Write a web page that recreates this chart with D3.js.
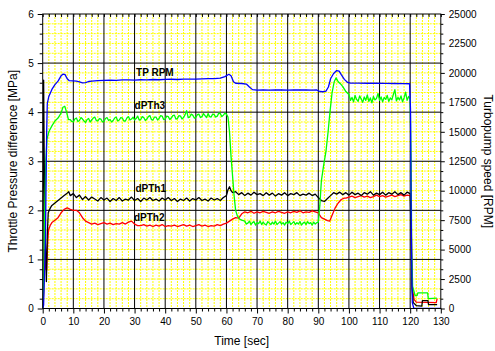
<!DOCTYPE html>
<html>
<head>
<meta charset="utf-8">
<script src="https://cdn.jsdelivr.net/npm/d3@7"></script>
<style>
  body { margin: 0; background: #fff; }
  svg { display: block; font-family: "Liberation Sans", Arial, sans-serif; }
</style>
</head>
<body>
<div id="chart"></div>
<script>
// Turbopump speed [RPM] vs time [s]
const tpRpm = [[0,0],[0.3,300],[0.9,6000],[1.3,15000],[1.5,17400],[2,18000],[3,18600],[4,19000],[5,19300],[6,19750],[6.7,19900],[7.3,19850],[8,19500],[8.6,19350],[10,19320],[11,19300],[12,19230],[13,19160],[14,19180],[15,19270],[16,19310],[18,19340],[20,19360],[22,19380],[24,19370],[26,19400],[28,19410],[30,19390],[32,19420],[34,19410],[36,19440],[38,19420],[40,19450],[42,19460],[44,19440],[46,19470],[48,19480],[50,19470],[52,19500],[54,19510],[56,19520],[58,19560],[59.5,19680],[60.8,19880],[61.5,19750],[62.3,19250],[63,19120],[65,19100],[66.5,19050],[67.5,18800],[68.5,18580],[70,18540],[72,18560],[74,18540],[76,18560],[78,18550],[80,18540],[82,18560],[84,18550],[86,18560],[88,18540],[89.5,18550],[90.5,18420],[91.5,18400],[92.5,18450],[93.3,18800],[94,19500],[95,19950],[96,20200],[96.8,20150],[97.5,19850],[98.5,19450],[99.5,19200],[100.5,19130],[103,19140],[106,19120],[109,19130],[112,19110],[115,19100],[118,19090],[119.8,19080],[120.1,17000],[120.4,6000],[120.7,500],[121.2,0],[130,0]];

// Pressure differences [MPa] vs time [s]
const dPTh3 = [[0,0],[0.3,0.4],[0.6,1.8],[1.0,3.0],[1.4,3.45],[2,3.6],[3,3.72],[4,3.82],[5,3.88],[6,3.98],[6.6,4.1],[7.2,4.12],[7.8,4.0],[8.4,3.85],[9,3.85],[9.5,3.81],
  [10,3.80],[10.5,3.86],[11,3.88],[11.5,3.81],[12,3.83],[12.5,3.89],[13,3.86],[13.5,3.82],[14,3.79],[14.5,3.85],[15,3.87],[15.5,3.80],[16,3.84],[16.5,3.88],[17,3.90],[17.5,3.83],[18,3.82],[18.5,3.87],[19,3.86],[19.5,3.80],
  [20,3.81],[20.5,3.87],[21,3.89],[21.5,3.83],[22,3.85],[22.5,3.80],[23,3.83],[23.5,3.88],[24,3.90],[24.5,3.82],[25,3.84],[25.5,3.89],[26,3.88],[26.5,3.82],[27,3.82],[27.5,3.88],[28,3.91],[28.5,3.84],[29,3.86],[29.5,3.90],
  [30,3.84],[30.5,3.87],[31,3.92],[31.5,3.84],[32,3.85],[32.5,3.91],[33,3.89],[33.5,3.83],[34,3.86],[34.5,3.91],[35,3.93],[35.5,3.85],[36,3.84],[36.5,3.90],[37,3.90],[37.5,3.84],[38,3.87],[38.5,3.93],[39,3.92],[39.5,3.85],
  [40,3.86],[40.5,3.92],[41,3.91],[41.5,3.85],[42,3.88],[42.5,3.93],[43,3.94],[43.5,3.86],[44,3.87],[44.5,3.93],[45,3.92],[45.5,3.86],[46,3.89],[46.5,3.95],[47,4.03],[47.5,3.89],[48,3.90],[48.5,3.96],[49,3.94],[49.5,3.88],
  [50,3.89],[50.5,3.95],[51,3.96],[51.5,3.89],[52,3.91],[52.5,3.97],[53,3.93],[53.5,3.89],[54,3.97],[54.5,3.91],[55,3.90],[55.5,3.96],[56,3.95],[56.5,3.90],[57,3.92],[57.5,3.98],[58,3.97],[58.5,3.91],[59,3.94],[59.5,3.98],
  [60,3.96],[60.5,3.9],[61,3.6],[61.5,3.1],[62,2.7],[62.5,2.3],[63,2.0],[63.6,1.88],[64.3,1.82],[65,1.80],
  [66,1.78],[66.5,1.72],[67,1.74],[67.5,1.78],[68,1.71],[68.5,1.75],[69,1.77],[69.5,1.70],[70,1.75],[70.5,1.73],[71,1.78],[71.5,1.71],[72,1.76],[72.5,1.72],[73,1.70],[73.5,1.77],[74,1.74],[74.5,1.71],[75,1.76],[75.5,1.72],
  [76,1.78],[76.5,1.71],[77,1.74],[77.5,1.77],[78,1.72],[78.5,1.75],[79,1.70],[79.5,1.76],[80,1.73],[80.5,1.78],[81,1.71],[81.5,1.74],[82,1.77],[82.5,1.71],[83,1.75],[83.5,1.72],[84,1.77],[84.5,1.70],[85,1.74],[85.5,1.76],
  [86,1.71],[86.5,1.77],[87,1.73],[87.5,1.75],[88,1.70],[88.5,1.76],[89,1.72],[89.5,1.75],[90,1.76],
  [90.5,2.1],[91,2.6],[91.7,2.9],[92.5,3.2],[93.2,3.6],[93.8,4.0],[94.5,4.4],[95.2,4.62],[95.8,4.7],[96.5,4.62],[97.2,4.58],[98,4.52],[99,4.42],
  [100,4.36],[100.5,4.24],[101,4.30],[101.5,4.21],[102,4.34],[102.5,4.26],[103,4.22],[103.5,4.33],[104,4.27],[104.5,4.20],[105,4.31],[105.5,4.24],[106,4.35],[106.5,4.22],[107,4.29],[107.5,4.19],[108,4.32],[108.5,4.25],[109,4.28],[109.5,4.38],
  [110,4.24],[110.5,4.31],[111,4.21],[111.5,4.30],[112,4.26],[112.5,4.34],[113,4.22],[113.5,4.29],[114,4.25],[114.5,4.36],[115,4.46],[115.5,4.23],[116,4.30],[116.5,4.25],[117,4.33],[117.5,4.21],[118,4.29],[118.5,4.41],[119,4.24],[119.5,4.32],
  [120,4.27],[120.3,3.0],[120.5,1.2],[120.8,0.45],[121.2,0.36],[121.6,0.26],[122.3,0.27],[122.5,0.32],[125.7,0.32],[125.9,0.2],[128.7,0.21]];

const dPTh1 = [[0,0],[0.15,2.0],[0.3,4.65],[0.5,3.0],[0.8,1.5],[1.2,0.55],[1.5,1.5],[1.8,1.95],[2.5,2.05],[3,2.1],[4,2.15],[5,2.2],[6,2.25],[7,2.3],[8,2.35],[8.5,2.38],[9,2.30],[10,2.34],[11,2.26],[12,2.31],[13,2.22],[14,2.28],[15,2.21],[16,2.27],[17,2.23],[18,2.19],[19,2.26],[20,2.21],[21,2.25],[22,2.18],[23,2.24],[24,2.20],[25,2.26],[26,2.19],[27,2.23],[28,2.21],[29,2.27],[30,2.20],[31,2.24],[32,2.18],[33,2.25],[34,2.21],[35,2.26],[36,2.20],[37,2.23],[38,2.19],[39,2.25],[40,2.21],[41,2.26],[42,2.20],[43,2.24],[44,2.18],[45,2.23],[46,2.20],[47,2.25],[48,2.19],[49,2.24],[50,2.21],[51,2.26],[52,2.20],[53,2.23],[54,2.19],[55,2.25],[56,2.21],[57,2.24],[58,2.20],[59,2.26],[60,2.30],[60.5,2.42],[61,2.48],[61.5,2.40],[62,2.36],[63,2.38],[64,2.32],[65,2.36],[66,2.30],[67,2.35],[68,2.31],[69,2.37],[70,2.32],[71,2.34],[72,2.30],[73,2.36],[74,2.31],[75,2.35],[76,2.29],[77,2.34],[78,2.31],[79,2.36],[80,2.30],[81,2.34],[82,2.32],[83,2.36],[84,2.30],[85,2.33],[86,2.31],[87,2.35],[88,2.30],[89,2.33],[90,2.26],[91,2.20],[92,2.18],[93,2.24],[94,2.30],[95,2.36],[96,2.33],[97,2.37],[98,2.32],[99,2.36],[100,2.31],[101,2.37],[102,2.32],[103,2.35],[104,2.30],[105,2.36],[106,2.33],[107,2.38],[108,2.31],[109,2.35],[110,2.32],[111,2.37],[112,2.31],[113,2.36],[114,2.33],[115,2.38],[116,2.32],[117,2.36],[118,2.31],[119,2.37],[120,2.34],[120.3,1.5],[120.6,0.4],[121,0.12],[122,0.06],[123.8,0.05],[124,0.16],[125.8,0.16],[126,0.08],[128.8,0.08]];

const dPTh2 = [[0,0],[0.3,0.3],[0.5,1.2],[0.8,1.15],[1.0,0.8],[1.3,0.78],[1.6,1.3],[1.9,1.6],[2.5,1.7],[3,1.75],[4,1.8],[5,1.85],[6,1.95],[7,2.02],[8,2.05],[9,2.02],[10,2.0],[11,2.0],[12,1.95],[13,1.85],[14,1.78],[15,1.75],[16,1.72],[17,1.74],[18,1.71],[19,1.73],[20,1.75],[21,1.72],[22,1.74],[23,1.71],[24,1.73],[25,1.72],[26,1.75],[27,1.72],[28,1.76],[29,1.78],[30,1.72],[31,1.69],[32,1.69],[33,1.71],[34,1.68],[35,1.70],[36,1.67],[37,1.70],[38,1.68],[39,1.71],[40,1.67],[41,1.69],[42,1.68],[43,1.70],[44,1.67],[45,1.69],[46,1.71],[47,1.68],[48,1.70],[49,1.67],[50,1.69],[51,1.71],[52,1.68],[53,1.70],[54,1.67],[55,1.69],[56,1.68],[57,1.71],[58,1.69],[59,1.72],[60,1.74],[61,1.78],[62,1.82],[63,1.85],[64,1.84],[65,1.93],[66,1.97],[67,1.95],[68,1.98],[69,1.94],[70,1.97],[71,1.95],[72,1.98],[73,1.96],[74,1.94],[75,1.97],[76,1.95],[77,1.98],[78,1.96],[79,1.94],[80,1.97],[81,1.95],[82,1.98],[83,1.96],[84,1.99],[85,1.95],[86,1.97],[87,1.96],[88,1.99],[89,1.97],[90,1.95],[90.5,1.9],[91,1.85],[92,1.82],[93,1.79],[93.7,1.78],[94.5,1.9],[95.5,2.05],[96.5,2.15],[97.5,2.22],[98.5,2.25],[99,2.25],[100,2.27],[101,2.29],[102,2.26],[103,2.28],[104,2.30],[105,2.27],[106,2.29],[107,2.26],[108,2.28],[109,2.31],[110,2.28],[111,2.30],[112,2.27],[113,2.29],[114,2.31],[115,2.28],[116,2.30],[117,2.32],[118,2.29],[119,2.31],[120,2.30],[120.3,2.2],[120.6,0.5],[121,0.3],[121.3,0.18],[122,0.13],[128.5,0.12],[128.8,0.2]];

const xTicks = d3.range(0, 131, 10);
const yTicks = d3.range(0, 7, 1);
const rpmTicks = d3.range(0, 25001, 2500);

const W = 495, H = 351;
const plot = { left: 42.7, right: 440.8, top: 14, bottom: 308.5 };

const x = d3.scaleLinear().domain([0, 130]).range([plot.left, plot.right]);
const y = d3.scaleLinear().domain([0, 6]).range([plot.bottom, plot.top]);
const yRpm = d3.scaleLinear().domain([0, 25000]).range([plot.bottom, plot.top]);

const svg = d3.select('#chart').append('svg')
    .attr('width', W)
    .attr('height', H);

svg.append('defs').append('clipPath').attr('id', 'clip')
    .append('rect')
    .attr('x', plot.left).attr('y', plot.top)
    .attr('width', plot.right - plot.left)
    .attr('height', plot.bottom - plot.top);

// minor grid (yellow, dotted)
const minorX = d3.range(0, 131, 2).filter(v => v % 10 !== 0);
const minorY = d3.range(1, 30).map(i => i * 0.2).filter((v, i) => (i + 1) % 5 !== 0);
const grid = svg.append('g');
grid.selectAll('.mx').data(minorX).enter().append('line')
    .attr('x1', d => x(d)).attr('x2', d => x(d))
    .attr('y1', plot.top).attr('y2', plot.bottom)
    .attr('stroke', '#ffff00').attr('stroke-width', 1).attr('stroke-dasharray', '2,1');
grid.selectAll('.my').data(minorY).enter().append('line')
    .attr('x1', plot.left).attr('x2', plot.right)
    .attr('y1', d => y(d)).attr('y2', d => y(d))
    .attr('stroke', '#ffff00').attr('stroke-width', 1).attr('stroke-dasharray', '2,1');

// major grid (black)
grid.selectAll('.gx').data(xTicks.slice(1, -1)).enter().append('line')
    .attr('x1', d => x(d)).attr('x2', d => x(d))
    .attr('y1', plot.top).attr('y2', plot.bottom)
    .attr('stroke', '#000').attr('stroke-width', 1);
grid.selectAll('.gy').data(yTicks.slice(1, -1)).enter().append('line')
    .attr('x1', plot.left).attr('x2', plot.right)
    .attr('y1', d => y(d)).attr('y2', d => y(d))
    .attr('stroke', '#000').attr('stroke-width', 1);

// series
const lineMPa = d3.line().x(d => x(d[0])).y(d => y(d[1]));
const lineRpm = d3.line().x(d => x(d[0])).y(d => yRpm(d[1]));
const series = svg.append('g').attr('clip-path', 'url(#clip)');
[
    { data: dPTh2, color: '#ff0000', gen: lineMPa },
    { data: dPTh1, color: '#000000', gen: lineMPa },
    { data: dPTh3, color: '#00ff00', gen: lineMPa },
    { data: tpRpm, color: '#0000ff', gen: lineRpm }
].forEach(s => {
    series.append('path')
        .attr('d', s.gen(s.data))
        .attr('fill', 'none')
        .attr('stroke', s.color)
        .attr('stroke-width', 1.3)
        .attr('stroke-linejoin', 'round');
});

// axes
function styleAxis(g) {
    g.select('.domain').remove();
    g.selectAll('line').attr('stroke', '#000');
    g.selectAll('text').attr('font-size', 10).attr('fill', '#000')
        .attr('font-family', '"Liberation Sans", Arial, sans-serif');
}
const fmt = d3.format('d');

svg.append('g').attr('transform', `translate(0,${plot.bottom})`)
    .call(d3.axisBottom(x).tickValues(xTicks).tickSize(5).tickPadding(4).tickFormat(fmt))
    .call(styleAxis);
svg.append('g').attr('transform', `translate(0,${plot.bottom})`)
    .call(d3.axisBottom(x).tickValues(minorX).tickSize(3).tickFormat(''))
    .call(styleAxis);
svg.append('g').attr('transform', `translate(0,${plot.top})`)
    .call(d3.axisBottom(x).tickValues(d3.range(0, 131, 2)).tickSize(3).tickFormat(''))
    .call(styleAxis);

svg.append('g').attr('transform', `translate(${plot.left},0)`)
    .call(d3.axisLeft(y).tickValues(yTicks).tickSize(5).tickPadding(4).tickFormat(fmt))
    .call(styleAxis);
svg.append('g').attr('transform', `translate(${plot.left},0)`)
    .call(d3.axisLeft(y).tickValues(minorY).tickSize(3).tickFormat(''))
    .call(styleAxis);

svg.append('g').attr('transform', `translate(${plot.right},0)`)
    .call(d3.axisRight(yRpm).tickValues(rpmTicks).tickSize(4).tickPadding(4).tickFormat(fmt))
    .call(styleAxis);
svg.append('g').attr('transform', `translate(${plot.right},0)`)
    .call(d3.axisRight(yRpm).tickValues(d3.range(0, 30).map(i => i * 2500 / 3).filter((v, i) => i % 3 !== 0))
        .tickSize(2.5).tickFormat(''))
    .call(styleAxis);

// frame
svg.append('rect')
    .attr('x', plot.left).attr('y', plot.top)
    .attr('width', plot.right - plot.left)
    .attr('height', plot.bottom - plot.top)
    .attr('fill', 'none')
    .attr('stroke', '#000')
    .attr('stroke-width', 1);

// axis titles
svg.append('text')
    .attr('x', (plot.left + plot.right) / 2).attr('y', 345)
    .attr('text-anchor', 'middle')
    .attr('font-size', 12)
    .text('Time [sec]');
svg.append('text')
    .attr('transform', `translate(13,${(plot.top + plot.bottom) / 2}) rotate(-90)`)
    .attr('text-anchor', 'middle')
    .attr('dominant-baseline', 'central')
    .attr('font-size', 12)
    .text('Throttle Pressure difference [MPa]');
svg.append('text')
    .attr('transform', `translate(488,${(plot.top + plot.bottom) / 2}) rotate(90)`)
    .attr('text-anchor', 'middle')
    .attr('dominant-baseline', 'central')
    .attr('font-size', 12)
    .text('Turbopump speed [RPM]');

// series labels
const labels = [
    { text: 'TP RPM', t: 30.5, v: 19700, scale: yRpm },
    { text: 'dPTh3', t: 30, v: 4.07, scale: y },
    { text: 'dPTh1', t: 30.3, v: 2.38, scale: y },
    { text: 'dPTh2', t: 29.8, v: 1.79, scale: y }
];
svg.selectAll('.lbl').data(labels).enter().append('text')
    .attr('x', d => x(d.t))
    .attr('y', d => d.scale(d.v))
    .attr('font-size', 10)
    .attr('font-weight', 'bold')
    .attr('fill', '#000')
    .text(d => d.text);
</script>
</body>
</html>
